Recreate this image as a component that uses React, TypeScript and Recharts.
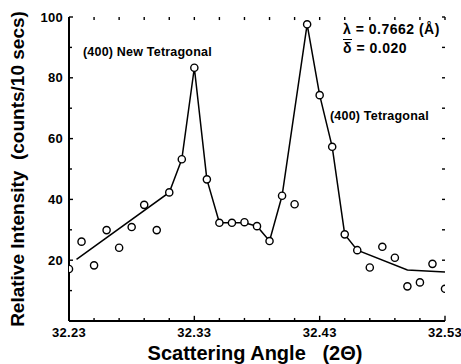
import React from "react";
import {
  ComposedChart,
  Scatter,
  Line,
  XAxis,
  YAxis,
  ReferenceLine,
} from "recharts";

// measured scan: 2θ (deg) and counts per 10 s
const angle = [
  32.23, 32.24, 32.25, 32.26, 32.27, 32.28, 32.29, 32.3, 32.31, 32.32, 32.33,
  32.34, 32.35, 32.36, 32.37, 32.38, 32.39, 32.4, 32.41, 32.42, 32.43, 32.44,
  32.45, 32.46, 32.47, 32.48, 32.49, 32.5, 32.51, 32.52, 32.53,
];
const counts = [
  17.1, 26.1, 18.3, 29.9, 24.1, 30.9, 38.2, 29.9, 42.3, 53.2, 83.3, 46.6, 32.3,
  32.3, 32.5, 31.2, 26.3, 41.2, 38.4, 97.6, 74.3, 57.3, 28.5, 23.3, 17.6, 24.4,
  20.8, 11.4, 12.7, 18.8, 10.6,
];

// fitted profile
const fitAngle = [
  32.236, 32.31, 32.32, 32.33, 32.34, 32.35, 32.36, 32.37, 32.38, 32.39, 32.4,
  32.42, 32.43, 32.44, 32.45, 32.46, 32.5, 32.53,
];
const fitCounts = [
  20.3, 42.3, 53.2, 83.3, 46.6, 32.3, 32.3, 32.3, 31.2, 26.3, 41.2, 97.6, 74.3,
  57.3, 28.5, 23.3, 16.8, 16.1,
];

const xLabelTicks = [32.23, 32.33, 32.43, 32.53];
const xMinorTicks = [
  32.23, 32.25, 32.27, 32.29, 32.31, 32.33, 32.35, 32.37, 32.39, 32.41, 32.43,
  32.45, 32.47, 32.49, 32.51, 32.53,
];
const yLabelTicks = [20, 40, 60, 80, 100];
const yMinorTicks = [0, 10, 20, 30, 40, 50, 60, 70, 80, 90, 100];

const xDomain = [32.23, 32.53];
const yDomain = [0, 100];

const scan = angle.map((x, i) => ({ x, y: counts[i] }));
const fit = fitAngle.map((x, i) => ({ x, y: fitCounts[i] }));

// inward tick lengths in data units (about 3px minor, 5px major)
const TICK_Y = 1;
const TICK_Y_MAJOR = 1.7;
const TICK_X = 0.0024;
const TICK_X_MAJOR = 0.0032;

const FONT = "'Liberation Sans', Arial, Helvetica, sans-serif";
const labelStyle = {
  fontSize: 13,
  fontWeight: 700,
  fill: "#000",
  fontFamily: FONT,
  letterSpacing: 0.3,
};
const isIn = (list: number[], v: number) =>
  list.some((t) => Math.abs(t - v) < 1e-6);

const BottomLabel = (props: any) => {
  const v = props.payload.value;
  if (!isIn(xLabelTicks, v)) return <g />;
  return (
    <text x={props.x} y={props.y + 7} dy="0.71em" textAnchor="middle" {...labelStyle}>
      {v.toFixed(2)}
    </text>
  );
};
const LeftLabel = (props: any) => {
  const v = props.payload.value;
  if (!isIn(yLabelTicks, v)) return <g />;
  return (
    <text x={props.x - 6} y={props.y} dy="0.36em" textAnchor="end" {...labelStyle}>
      {v}
    </text>
  );
};

const OpenCircle = (props: any) => (
  <circle
    cx={props.cx}
    cy={props.cy}
    r={3.6}
    fill="#fff"
    stroke="#000"
    strokeWidth={1.4}
  />
);

const tickProps = {
  xAxisId: "x",
  yAxisId: "y",
  stroke: "#000",
  strokeWidth: 1.4,
  ifOverflow: "visible" as const,
};

export default function App() {
  const [x0, x1] = xDomain;
  const [y0, y1] = yDomain;
  return (
    <div
      style={{
        position: "absolute",
        left: 0,
        top: 0,
        width: 461,
        height: 364,
        background: "#fff",
        fontFamily: FONT,
        color: "#000",
      }}
    >
      <ComposedChart
        width={461}
        height={364}
        data={scan}
        margin={{ top: 17, right: 16, left: 29, bottom: 23 }}
      >
        <XAxis
          xAxisId="x"
          dataKey="x"
          type="number"
          domain={xDomain}
          allowDataOverflow
          ticks={xMinorTicks}
          interval={0}
          height={20}
          tickSize={0}
          tickMargin={0}
          tickLine={false}
          axisLine={{ stroke: "#000", strokeWidth: 2 }}
          tick={BottomLabel}
        />
        <XAxis
          xAxisId="xt"
          dataKey="x"
          orientation="top"
          type="number"
          domain={xDomain}
          allowDataOverflow
          height={0}
          tick={false}
          tickLine={false}
          axisLine={{ stroke: "#000", strokeWidth: 1.4 }}
        />
        <YAxis
          yAxisId="y"
          type="number"
          domain={yDomain}
          allowDataOverflow
          ticks={yMinorTicks}
          interval={0}
          width={40}
          tickSize={0}
          tickMargin={0}
          tickLine={false}
          axisLine={{ stroke: "#000", strokeWidth: 2 }}
          tick={LeftLabel}
        />
        <YAxis
          yAxisId="yr"
          orientation="right"
          type="number"
          domain={yDomain}
          allowDataOverflow
          width={0}
          tick={false}
          tickLine={false}
          axisLine={{ stroke: "#000", strokeWidth: 1.4 }}
        />

        {/* tick marks on the four sides of the frame */}
        {xMinorTicks.map((t) => (
          <ReferenceLine
            key={`b${t}`}
            {...tickProps}
            segment={[
              { x: t, y: y0 },
              { x: t, y: y0 + (isIn(xLabelTicks, t) ? TICK_Y_MAJOR : TICK_Y) },
            ]}
          />
        ))}
        {xMinorTicks.map((t) => (
          <ReferenceLine
            key={`t${t}`}
            {...tickProps}
            segment={[
              { x: t, y: y1 },
              { x: t, y: y1 - TICK_Y },
            ]}
          />
        ))}
        {yMinorTicks.map((t) => (
          <ReferenceLine
            key={`l${t}`}
            {...tickProps}
            segment={[
              { x: x0, y: t },
              { x: x0 + (isIn(yLabelTicks, t) ? TICK_X_MAJOR : TICK_X), y: t },
            ]}
          />
        ))}
        {yMinorTicks.map((t) => (
          <ReferenceLine
            key={`r${t}`}
            {...tickProps}
            segment={[
              { x: x1, y: t },
              { x: x1 - TICK_X, y: t },
            ]}
          />
        ))}

        {/* invisible carrier so the frame axes get a scale */}
        <Line
          xAxisId="xt"
          yAxisId="yr"
          data={fit}
          dataKey="y"
          stroke="none"
          dot={false}
          activeDot={false}
          legendType="none"
          isAnimationActive={false}
        />
        <Line
          xAxisId="x"
          yAxisId="y"
          data={fit}
          dataKey="y"
          type="linear"
          stroke="#000"
          strokeWidth={1.5}
          dot={false}
          activeDot={false}
          isAnimationActive={false}
        />
        <Scatter
          xAxisId="x"
          yAxisId="y"
          data={scan}
          dataKey="y"
          shape={OpenCircle}
          isAnimationActive={false}
        />
      </ComposedChart>

      <div
        style={{
          position: "absolute",
          left: 18,
          top: 169,
          transform: "translate(-50%, -50%) rotate(-90deg)",
          whiteSpace: "nowrap",
          fontSize: 19,
          fontWeight: 700,
        }}
      >
        Relative Intensity&nbsp;&nbsp;(counts/10 secs)
      </div>
      <div
        style={{
          position: "absolute",
          left: 255,
          top: 353,
          transform: "translate(-50%, -50%)",
          whiteSpace: "nowrap",
          fontSize: 20,
          fontWeight: 700,
        }}
      >
        Scattering Angle&nbsp;&nbsp;&nbsp;(2Θ)
      </div>
      <div
        style={{
          position: "absolute",
          left: 83,
          top: 45,
          whiteSpace: "nowrap",
          fontSize: 12.5,
          fontWeight: 700,
          letterSpacing: 0.2,
        }}
      >
        (400) New Tetragonal
      </div>
      <div
        style={{
          position: "absolute",
          left: 330,
          top: 109,
          whiteSpace: "nowrap",
          fontSize: 12.5,
          fontWeight: 700,
          letterSpacing: 0.2,
        }}
      >
        (400) Tetragonal
      </div>
      <div
        style={{
          position: "absolute",
          left: 343,
          top: 20,
          whiteSpace: "nowrap",
          fontSize: 14,
          fontWeight: 700,
          letterSpacing: 0.5,
          lineHeight: "19px",
        }}
      >
        <div>λ = 0.7662 (Å)</div>
        <div>
          <span style={{ textDecoration: "overline" }}>δ</span> = 0.020
        </div>
      </div>
    </div>
  );
}
